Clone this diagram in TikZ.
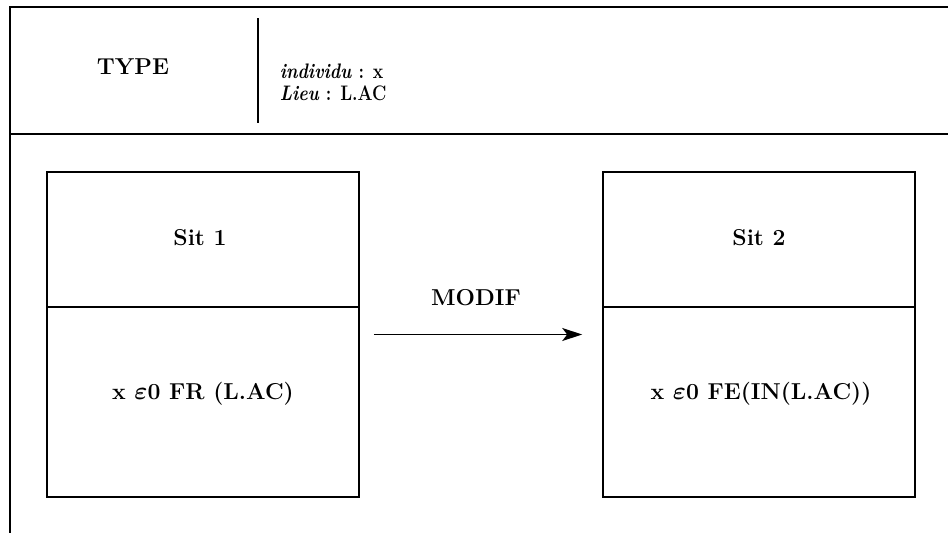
\documentclass[tikz,border=0pt]{standalone}
\usepackage{graphicx}
\usetikzlibrary{arrows.meta}

\begin{document}
\begin{tikzpicture} [x=1pt,y=-1pt,line width=1.6pt,
    font=\fontsize{23}{27}\selectfont\bfseries,
    sitbox/.style={draw,minimum width=312pt,minimum height=325pt,inner sep=0pt},
    txt/.style={anchor=base,inner sep=0pt},
    attr/.style={anchor=base west,inner sep=0pt,font=\fontsize{21}{25}\selectfont\bfseries},
    modif/.style={-{Stealth[length=20pt,width=13pt,inset=5pt]},line width=1.3pt}]
    \useasboundingbox (0,0) rectangle (948,533);
    % cadre et en-tete
    \draw (948,7) -- (10,7) -- (10,533);
    \draw (10,134) -- (948,134);
    \draw (258,18) -- (258,123);
    \node[txt] (type) at (133,74) {TYPE};
    \node[attr] (attr1) at (279,78) {\scalebox{0.84}[1]{\textit{individu} : x}};
    \node[attr] (attr2) at (279,100) {\scalebox{0.84}[1]{\textit{Lieu} : L.AC}};
    % situations
    \node[sitbox] (sit1) at (203,334.5) {};
    \node[sitbox] (sit2) at (759,334.5) {};
    \draw (sit1.west |- 0,307) -- (sit1.east |- 0,307);
    \draw (sit2.west |- 0,307) -- (sit2.east |- 0,307);
    \node[txt] (sit1t) at (200,245) {Sit 1};
    \node[txt] (sit2t) at (759,245) {Sit 2};
    \node[txt] (sit1c) at (203,399) {x {\boldmath$\varepsilon$}0 FR (L.AC)};
    \node[txt] (sit2c) at (761,399) {x {\boldmath$\varepsilon$}0 FE(IN(L.AC))};
    % transition
    \draw[modif,shorten <=14pt,shorten >=20pt] (sit1.east) -- (sit2.west);
    \node[txt] (modif) at (476,305) {MODIF};
\end{tikzpicture}
\end{document}
